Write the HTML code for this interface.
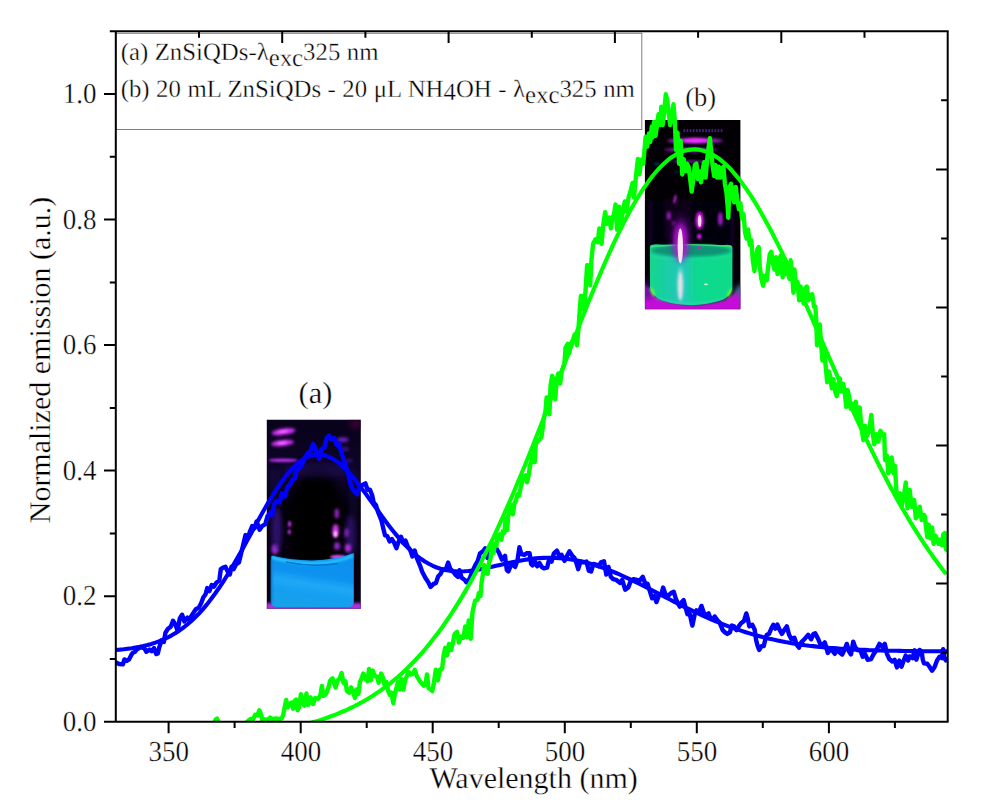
<!DOCTYPE html>
<html><head><meta charset="utf-8"><title>chart</title>
<style>html,body{margin:0;padding:0;background:#fff;}svg{display:block}text{font-family:"Liberation Serif",serif;fill:#000;stroke:#fff;stroke-width:0.35px;text-rendering:geometricPrecision}</style></head><body>
<svg width="990" height="810" viewBox="0 0 990 810">
<rect width="990" height="810" fill="#fff"/>
<defs><clipPath id="cp"><rect x="115.8" y="31.3" width="831.9000000000001" height="690.4000000000001"/></clipPath></defs>
<defs>
<filter id="b1" x="-50%" y="-50%" width="200%" height="200%"><feGaussianBlur stdDeviation="1"/></filter>
<filter id="b15" x="-50%" y="-50%" width="200%" height="200%"><feGaussianBlur stdDeviation="1.6"/></filter>
<filter id="b2" x="-50%" y="-50%" width="200%" height="200%"><feGaussianBlur stdDeviation="2.4"/></filter>
<filter id="b4" x="-50%" y="-50%" width="200%" height="200%"><feGaussianBlur stdDeviation="4"/></filter>
<filter id="b05" x="-50%" y="-50%" width="200%" height="200%"><feGaussianBlur stdDeviation="0.6"/></filter>
<clipPath id="ca"><rect x="266.8" y="419.7" width="94" height="189"/></clipPath>
<clipPath id="cb"><rect x="644.9" y="120" width="95.5" height="189.3"/></clipPath>
<linearGradient id="la" x1="0.62" y1="0" x2="0.38" y2="1">
<stop offset="0" stop-color="#0a8eee"/><stop offset="0.4" stop-color="#0a92f0"/><stop offset="0.58" stop-color="#20a8f6"/><stop offset="0.78" stop-color="#129ef0"/><stop offset="1" stop-color="#16a2e8"/></linearGradient>
<linearGradient id="lb" x1="0" y1="0" x2="1" y2="0">
<stop offset="0" stop-color="#12d68c"/><stop offset="0.25" stop-color="#1cccac"/><stop offset="0.4" stop-color="#24c8bc"/><stop offset="0.55" stop-color="#0ed892"/><stop offset="1" stop-color="#0adc88"/></linearGradient>
<linearGradient id="abg" x1="0" y1="0" x2="0" y2="1">
<stop offset="0" stop-color="#08021a"/><stop offset="0.2" stop-color="#0c0424"/><stop offset="0.3" stop-color="#10062e"/><stop offset="0.45" stop-color="#05000c"/><stop offset="1" stop-color="#070112"/></linearGradient>
</defs>
<g clip-path="url(#ca)">
<rect x="266" y="419" width="96" height="191" fill="url(#abg)"/>
<ellipse cx="316" cy="520" rx="27" ry="52" fill="#020006" filter="url(#b4)"/>
<ellipse cx="318" cy="470" rx="36" ry="7" fill="#24105c" opacity="0.6" filter="url(#b4)"/>
<rect x="270" y="470" width="10" height="85" fill="#180840" opacity="0.55" filter="url(#b2)"/>
<rect x="349" y="470" width="9" height="85" fill="#180840" opacity="0.5" filter="url(#b2)"/>
<ellipse cx="283.5" cy="431.7" rx="12" ry="3.1" fill="#d832ff" filter="url(#b15)" transform="rotate(-8 283.5 431.7)"/>
<ellipse cx="282.5" cy="443" rx="11.5" ry="3.0" fill="#d832ff" filter="url(#b15)" transform="rotate(-6 282.5 443)"/>
<ellipse cx="283" cy="460.2" rx="14.5" ry="1.8" fill="#b42ee8" filter="url(#b1)"/>
<ellipse cx="283" cy="431.5" rx="5" ry="1.1" fill="#f478ff" filter="url(#b1)" transform="rotate(-8 283 431.5)"/>
<ellipse cx="282" cy="443" rx="5" ry="1.1" fill="#f478ff" filter="url(#b1)" transform="rotate(-6 282 443)"/>
<ellipse cx="342.7" cy="439.7" rx="6" ry="2.4" fill="#6a22c0" filter="url(#b15)"/>
<ellipse cx="345" cy="449" rx="4" ry="2" fill="#3c1480" filter="url(#b15)"/>
<ellipse cx="349" cy="460.5" rx="4" ry="2" fill="#2c1068" filter="url(#b15)"/>
<rect x="350" y="420" width="11" height="8" fill="#3a0030" filter="url(#b2)"/>
<ellipse cx="336.8" cy="513.5" rx="2" ry="5" fill="#a028d8" filter="url(#b15)"/>
<ellipse cx="335.6" cy="531" rx="3.2" ry="7" fill="#d838f0" filter="url(#b15)"/>
<ellipse cx="335.4" cy="534" rx="1.8" ry="3" fill="#ffc8ff" filter="url(#b1)"/>
<ellipse cx="346.9" cy="532.7" rx="2" ry="4.5" fill="#c030e8" filter="url(#b15)"/>
<ellipse cx="289.6" cy="524" rx="1.6" ry="3" fill="#c030e8" filter="url(#b1)"/>
<ellipse cx="289.3" cy="531.8" rx="1.6" ry="2.6" fill="#c030e8" filter="url(#b1)"/>
<ellipse cx="275" cy="549" rx="3.2" ry="5" fill="#b832e8" filter="url(#b15)"/>
<ellipse cx="277" cy="530" rx="5" ry="22" fill="#3c1488" opacity="0.7" filter="url(#b2)"/>
<ellipse cx="350" cy="535" rx="5" ry="20" fill="#3c1488" opacity="0.6" filter="url(#b2)"/>
<ellipse cx="337" cy="546" rx="3" ry="4" fill="#9026c8" filter="url(#b15)"/>
<ellipse cx="348" cy="548" rx="3" ry="4" fill="#b030e0" filter="url(#b15)"/>
<ellipse cx="338" cy="557" rx="8" ry="2" fill="#e050f0" filter="url(#b1)"/>
<rect x="266" y="603" width="96" height="7" fill="#b030e0" filter="url(#b15)"/>
<path d="M271.3 556.5 Q272 555 274 556.3 Q290 560 312 560.5 Q336 560 353.8 553 L353.8 602 Q353.8 607 348 607 L277 607 Q271.3 607 271.3 602 Z" fill="url(#la)" filter="url(#b05)"/>
<path d="M272 557.5 Q290 563 312 563.5 Q338 563 353 555.5" fill="none" stroke="#28c4ff" stroke-width="3" filter="url(#b1)"/>
<path d="M286 562 Q312 567.5 338 563.5" fill="none" stroke="#0478cc" stroke-width="1.6" filter="url(#b05)"/>
<rect x="271" y="560" width="2" height="43" fill="#0a84dc" filter="url(#b1)"/>
</g>
<g clip-path="url(#cb)">
<rect x="644" y="119" width="97" height="191" fill="#020004"/>
<g filter="url(#b05)" fill="#4e2098" opacity="0.9"><rect x="683.5" y="129.1" width="1.7" height="3"/><rect x="686.6" y="129.1" width="1.7" height="3"/><rect x="689.7" y="129.1" width="1.7" height="3"/><rect x="692.8" y="129.1" width="1.7" height="3"/><rect x="695.9" y="129.1" width="1.7" height="3"/><rect x="699.0" y="129.1" width="1.7" height="3"/><rect x="702.1" y="129.1" width="1.7" height="3"/><rect x="705.2" y="129.1" width="1.7" height="3"/><rect x="708.3" y="129.1" width="1.7" height="3"/><rect x="711.4" y="129.1" width="1.7" height="3"/><rect x="714.5" y="129.1" width="1.7" height="3"/><rect x="717.6" y="129.1" width="1.7" height="3"/><rect x="720.7" y="129.1" width="1.7" height="3"/></g>
<ellipse cx="695" cy="140.7" rx="28" ry="2.6" fill="#a020c8" filter="url(#b15)"/>
<ellipse cx="696" cy="140.5" rx="13" ry="2.2" fill="#f030ff" filter="url(#b1)"/>
<ellipse cx="691" cy="149.8" rx="27" ry="1.9" fill="#9a1cc0" filter="url(#b15)"/>
<ellipse cx="690" cy="149.8" rx="12" ry="1.4" fill="#d028e8" filter="url(#b1)"/>
<ellipse cx="692.5" cy="161.5" rx="21" ry="1.2" fill="#7418a8" filter="url(#b1)"/>
<ellipse cx="657" cy="164" rx="3" ry="1.3" fill="#004070" filter="url(#b1)"/>
<ellipse cx="677" cy="172" rx="3" ry="1.3" fill="#101858" filter="url(#b1)"/>
<rect x="652" y="202" width="79" height="50" fill="#06010e" filter="url(#b4)"/>
<rect x="664" y="199" width="27" height="40" fill="#1a0628" opacity="0.5" filter="url(#b15)"/>
<path d="M650.5 200 V300 M732.5 200 V300" stroke="#2a1050" stroke-width="1.4" filter="url(#b1)"/>
<path d="M644 284 Q650 292 660 299 Q690 310 725 300 Q735 294 741 285 L741 310 L644 310 Z" fill="#c410d8" filter="url(#b1)"/>
<path d="M644 276 Q648 288 656 296 L644 300 Z" fill="#6a10a0" filter="url(#b2)"/>
<path d="M741 282 L733 292 L741 296 Z" fill="#207080" filter="url(#b2)"/>
<path d="M650 246 Q652 243.5 660 244.5 Q691 247 724 245 Q731 244 732.4 247 L732.4 288 Q731 296 722 300 Q692 310 662 300.5 Q652 296 650 288 Z" fill="url(#lb)" filter="url(#b05)"/>
<ellipse cx="691" cy="250.5" rx="40" ry="6" fill="#089474" filter="url(#b15)"/>
<path d="M651 246.5 Q690 243 731.5 246.5" stroke="#3ce070" stroke-width="1.6" fill="none" filter="url(#b05)"/>
<path d="M651 257 Q691 262 732 256" stroke="#2cdc98" stroke-width="1.5" fill="none" opacity="0.8" filter="url(#b1)"/>
<ellipse cx="652.5" cy="292" rx="1.6" ry="5" fill="#70f040" filter="url(#b1)" transform="rotate(-25 652.5 292)"/>
<ellipse cx="729.5" cy="293" rx="1.6" ry="5" fill="#70f040" filter="url(#b1)" transform="rotate(25 729.5 293)"/>
<path d="M656 298 Q691 309 727 298" stroke="#30e8a8" stroke-width="1.5" fill="none" opacity="0.7" filter="url(#b1)"/>
<ellipse cx="706" cy="284.3" rx="2" ry="0.9" fill="#d8ffd0" filter="url(#b05)"/>
<ellipse cx="668.8" cy="215.7" rx="1.8" ry="4.2" fill="#b020d8" filter="url(#b15)"/>
<ellipse cx="673.5" cy="223" rx="1.5" ry="2.5" fill="#7818a0" filter="url(#b15)"/>
<ellipse cx="720.4" cy="219" rx="2.2" ry="7" fill="#b020d8" filter="url(#b15)"/>
<ellipse cx="699.6" cy="220.5" rx="4" ry="9" fill="#e818f8" filter="url(#b15)"/>
<ellipse cx="699.6" cy="221" rx="1.8" ry="6" fill="#ffd8f4" filter="url(#b05)"/>
<ellipse cx="699.3" cy="236.5" rx="2.2" ry="2.8" fill="#d020e8" filter="url(#b1)"/>
<ellipse cx="699.3" cy="247.5" rx="1.6" ry="1.6" fill="#c020d0" filter="url(#b05)"/>
<ellipse cx="680.5" cy="242" rx="6.2" ry="18" fill="#ee18fc" filter="url(#b2)"/>
<ellipse cx="681" cy="238" rx="8" ry="22" fill="#8010b0" opacity="0.6" filter="url(#b4)"/>
<ellipse cx="680.3" cy="246" rx="2.7" ry="17.5" fill="#ffe4f4" filter="url(#b05)"/>
<ellipse cx="680.5" cy="284" rx="3.5" ry="17" fill="#80d8d8" opacity="0.8" filter="url(#b15)"/>
<ellipse cx="680.3" cy="286" rx="2.1" ry="14" fill="#ffe4ec" opacity="0.85" filter="url(#b1)"/>
<ellipse cx="675" cy="199" rx="1.1" ry="4.5" fill="#d028e8" filter="url(#b1)" transform="rotate(12 675 199)"/>
</g>
<g clip-path="url(#cp)" fill="none" stroke-linejoin="round" stroke-linecap="round">
<path d="M116.1 662.5 119.1 664.0 122.9 664.4 124.4 659.4 126.7 661.0 129.0 659.4 131.3 654.9 132.8 652.9 135.0 651.8 136.6 649.6 140.4 647.3 144.2 648.1 146.4 651.8 149.5 649.6 151.7 651.1 154.0 648.1 156.3 654.1 157.8 653.4 159.3 647.3 161.6 640.5 163.9 642.0 165.4 632.9 167.7 629.1 170.7 626.8 173.0 620.7 175.3 624.5 177.6 630.6 179.8 618.4 182.1 614.7 184.4 621.5 187.4 617.7 188.9 620.0 192.7 613.9 195.8 609.3 198.8 607.8 201.1 603.3 203.4 597.2 205.6 594.2 207.2 588.1 209.4 591.1 211.7 585.0 214.0 586.6 216.3 582.8 219.3 580.5 220.8 569.1 223.1 567.6 225.4 566.8 227.7 571.4 229.9 574.4 231.5 566.8 233.7 569.1 236.0 564.6 239.0 562.3 245.5 535.1 247.8 538.1 250.0 531.3 252.3 526.0 254.6 528.2 256.6 521.4 259.6 529.8 262.2 526.0 265.2 524.4 267.5 516.1 270.5 512.3 272.1 515.3 274.3 503.9 276.6 500.9 279.7 502.4 281.9 493.3 285.0 496.4 287.2 487.2 290.3 484.2 292.6 479.7 294.8 478.1 296.4 471.3 299.4 468.3 302.4 463.7 304.7 457.6 307.7 453.1 310.0 452.3 313.1 444.0 316.1 450.0 319.1 458.4 321.4 449.3 324.4 447.8 326.7 437.9 329.0 435.6 331.3 439.4 334.3 437.9 336.6 444.7 338.9 444.0 340.4 449.3 342.7 456.9 345.7 466.0 348.0 472.8 351.0 485.7 353.3 490.3 357.1 494.1 359.4 487.2 362.4 485.0 365.4 483.4 367.6 489.7 369.9 489.7 372.1 495.0 373.7 502.6 375.9 504.9 378.2 512.5 381.3 520.1 383.5 529.2 385.0 535.3 387.3 536.0 389.6 541.4 391.9 539.1 394.2 542.9 396.4 548.2 398.7 541.4 401.0 536.8 403.3 542.9 405.5 540.6 407.8 546.7 410.1 549.7 412.4 556.5 414.7 550.5 416.9 558.1 420.0 565.6 422.2 571.7 425.3 577.8 428.3 582.3 430.6 586.9 433.6 583.9 435.9 583.1 438.2 576.3 440.5 574.0 442.7 569.4 445.8 569.4 448.1 562.6 450.3 568.7 452.6 571.0 455.6 574.8 457.9 577.0 459.4 570.2 461.7 577.8 464.8 580.1 466.3 582.3 469.3 579.3 472.3 571.7 475.4 564.9 477.7 561.1 479.9 553.5 483.0 551.2 485.2 548.2 487.5 558.1 489.8 552.7 492.1 544.4 494.4 547.4 496.6 548.9 498.9 552.7 501.9 559.6 505.0 555.8 506.8 570.0 508.3 571.5 510.6 566.2 512.9 564.7 515.2 566.9 517.5 560.1 519.4 547.2 521.3 554.0 524.3 554.8 526.6 553.3 529.6 553.3 531.1 563.9 532.6 565.4 534.9 561.6 537.2 566.2 539.5 563.1 541.7 566.9 544.0 568.4 547.1 567.7 549.3 558.6 551.6 561.6 553.9 553.3 556.9 550.7 559.2 555.5 561.5 554.8 564.5 560.9 566.8 556.3 569.5 551.3 572.1 555.5 574.4 557.8 576.7 563.9 578.2 569.2 580.5 561.6 583.5 562.4 586.5 561.6 588.8 570.7 591.1 571.5 593.4 563.9 596.4 564.7 598.7 566.2 601.0 562.4 604.0 561.3 606.3 574.5 608.5 566.9 610.8 576.8 613.1 579.1 616.1 579.8 619.9 582.9 622.2 579.8 625.2 589.7 628.3 587.4 630.6 581.4 633.6 579.1 636.6 579.8 639.7 580.6 642.7 576.8 645.0 582.9 645.3 583.1 647.6 583.8 649.9 591.4 652.1 598.3 654.4 596.0 656.4 602.1 659.0 595.2 661.3 594.5 663.1 587.6 665.8 595.2 668.8 595.2 671.1 593.0 673.7 591.7 675.7 598.3 678.0 603.6 679.8 606.6 681.7 602.1 683.7 600.2 685.5 607.4 687.4 614.2 689.3 611.9 691.6 622.6 692.4 625.6 694.7 614.2 696.5 610.4 699.2 611.9 701.5 605.9 703.8 612.7 706.0 615.0 708.6 613.4 710.6 618.8 712.9 619.5 714.7 616.5 717.4 620.3 719.7 622.6 722.7 630.1 725.0 632.4 727.3 633.9 729.9 632.4 731.8 625.6 734.1 626.4 736.4 630.1 738.7 626.4 741.0 623.3 744.0 621.0 746.3 613.4 747.8 618.8 749.3 626.4 752.3 624.8 754.6 629.4 756.1 640.0 757.7 646.1 759.2 649.9 761.5 646.1 763.7 646.1 765.2 640.0 766.8 634.7 769.0 633.9 771.3 628.6 773.3 624.8 775.4 628.6 777.4 624.5 779.4 629.4 781.9 633.9 784.2 630.1 786.8 626.4 789.1 634.8 791.4 639.3 794.4 637.8 796.7 644.7 799.0 647.7 801.3 642.4 804.3 639.3 808.1 634.8 811.1 639.3 813.4 634.0 815.2 633.3 818.0 638.6 820.2 643.9 822.5 645.4 824.8 642.4 826.3 647.7 827.8 653.0 830.1 650.0 832.4 650.7 834.7 653.8 836.9 650.0 839.5 652.2 842.2 654.5 844.5 650.0 846.8 643.9 849.1 651.5 851.0 654.5 853.2 641.6 855.1 646.9 857.4 650.0 860.5 650.7 862.7 656.8 865.0 653.8 867.7 659.8 871.1 659.1 873.4 654.5 876.4 650.0 879.4 643.9 882.5 646.9 884.8 643.9 887.0 653.8 889.3 659.1 892.3 661.4 894.6 659.8 896.9 667.4 899.2 660.6 901.5 666.7 903.7 660.6 905.7 655.6 908.1 660.5 909.7 656.4 912.6 658.1 914.6 650.3 916.3 659.7 917.9 654.8 919.5 649.9 921.5 651.1 922.8 659.7 924.0 663.4 927.3 663.8 929.7 667.0 932.1 670.7 934.6 667.0 937.0 660.5 939.5 656.8 941.9 658.1 943.1 649.1 944.4 658.1 946.0 660.5 947.6 658.9" stroke="#0000ff" stroke-width="4.4"/>
<path d="M115.8 649.9 119.8 649.6 123.7 649.2 127.7 648.7 131.6 648.2 135.6 647.5 139.6 646.8 143.5 646.0 147.5 645.0 151.5 643.9 155.4 642.6 159.4 641.1 163.3 639.5 167.3 637.7 171.3 635.6 175.2 633.3 179.2 630.7 183.1 627.8 187.1 624.7 191.1 621.3 195.0 617.5 199.0 613.5 203.0 609.1 206.9 604.4 210.9 599.3 214.8 594.0 218.8 588.3 222.8 582.3 226.7 576.1 230.7 569.6 234.6 562.8 238.6 555.9 242.6 548.9 246.5 541.7 250.5 534.4 254.5 527.2 258.4 520.0 262.4 512.8 266.3 505.9 270.3 499.2 274.3 492.7 278.2 486.6 282.2 480.9 286.1 475.6 290.1 470.8 294.1 466.6 298.0 463.0 302.0 459.9 306.0 457.5 309.9 455.8 313.9 454.8 317.8 454.4 321.8 454.7 325.8 455.6 329.7 457.2 333.7 459.4 337.6 462.1 341.6 465.4 345.6 469.2 349.5 473.4 353.5 477.9 357.5 482.8 361.4 487.9 365.4 493.3 369.3 498.7 373.3 504.3 377.3 509.8 381.2 515.3 385.2 520.7 389.1 525.9 393.1 531.0 397.1 535.9 401.0 540.5 405.0 544.8 409.0 548.8 412.9 552.5 416.9 555.8 420.8 558.8 424.8 561.5 428.8 563.8 432.7 565.8 436.7 567.5 440.6 568.8 444.6 569.9 448.6 570.6 452.5 571.2 456.5 571.4 460.5 571.5 464.4 571.3 468.4 571.0 472.3 570.6 476.3 570.0 480.3 569.3 484.2 568.5 488.2 567.6 492.1 566.7 496.1 565.8 500.1 564.9 504.0 564.0 508.0 563.1 511.9 562.2 515.9 561.4 519.9 560.7 523.8 560.0 527.8 559.4 531.8 558.8 535.7 558.4 539.7 558.1 543.6 557.9 547.6 557.8 551.6 557.8 555.5 557.9 559.5 558.1 563.4 558.4 567.4 558.9 571.4 559.5 575.3 560.1 579.3 560.9 583.3 561.8 587.2 562.8 591.2 564.0 595.1 565.2 599.1 566.5 603.1 567.9 607.0 569.3 611.0 570.9 614.9 572.5 618.9 574.2 622.9 576.0 626.8 577.8 630.8 579.7 634.8 581.6 638.7 583.5 642.7 585.5 646.6 587.5 650.6 589.5 654.6 591.6 658.5 593.6 662.5 595.7 666.4 597.7 670.4 599.8 674.4 601.8 678.3 603.8 682.3 605.8 686.3 607.8 690.2 609.7 694.2 611.6 698.1 613.5 702.1 615.3 706.1 617.1 710.0 618.9 714.0 620.5 717.9 622.2 721.9 623.8 725.9 625.3 729.8 626.8 733.8 628.2 737.8 629.6 741.7 630.9 745.7 632.2 749.6 633.4 753.6 634.6 757.6 635.7 761.5 636.7 765.5 637.7 769.4 638.7 773.4 639.6 777.4 640.4 781.3 641.2 785.3 642.0 789.3 642.7 793.2 643.4 797.2 644.0 801.1 644.6 805.1 645.2 809.1 645.7 813.0 646.1 817.0 646.6 820.9 647.0 824.9 647.4 828.9 647.8 832.8 648.1 836.8 648.4 840.8 648.7 844.7 648.9 848.7 649.2 852.6 649.4 856.6 649.6 860.6 649.8 864.5 649.9 868.5 650.1 872.4 650.2 876.4 650.4 880.4 650.5 884.3 650.6 888.3 650.7 892.3 650.8 896.2 650.8 900.2 650.9 904.1 651.0 908.1 651.0 912.1 651.1 916.0 651.1 920.0 651.2 923.9 651.2 927.9 651.2 931.9 651.3 935.8 651.3 939.8 651.3 943.8 651.3 947.7 651.4" stroke="#0000ff" stroke-width="4.1"/>
<path d="M214.1 723.1 215.6 719.6 217.1 718.5 219.0 723.1 246.0 723.1 248.3 720.8 250.5 719.0 252.8 720.1 255.1 714.8 257.4 715.5 259.3 710.2 261.2 714.8 262.4 720.8 265.0 719.3 267.2 720.1 270.3 717.5 272.6 719.3 275.6 718.5 278.6 719.0 281.7 718.5 283.2 714.8 284.7 707.2 286.2 699.9 287.7 707.2 289.3 704.1 291.5 702.6 293.1 708.7 294.6 701.1 296.1 699.6 297.6 710.2 299.1 707.2 300.9 694.3 302.5 701.1 304.4 705.6 306.4 693.5 308.2 704.9 310.5 697.3 313.1 704.1 315.1 698.1 318.1 698.8 320.4 695.0 321.9 685.9 323.4 695.8 325.7 694.3 328.0 688.9 330.2 680.6 332.5 678.3 334.0 682.9 335.6 687.4 337.4 680.6 339.8 678.3 341.6 673.0 343.5 682.9 345.4 681.4 346.9 691.2 349.2 692.7 351.1 687.3 353.3 692.6 354.9 697.9 356.4 689.5 358.4 694.1 359.9 681.9 361.7 678.1 363.2 673.6 365.5 678.9 367.5 681.2 369.0 669.0 370.8 680.4 372.8 670.6 374.6 675.9 376.9 676.6 378.7 682.7 381.1 673.6 383.0 677.4 384.5 685.0 386.3 681.9 388.3 691.1 389.8 694.8 391.3 692.6 393.3 703.2 394.8 694.1 396.6 687.3 398.1 681.9 399.7 689.5 401.5 678.9 403.4 689.5 405.0 680.4 406.9 675.9 408.8 672.1 411.0 674.4 413.0 673.6 414.8 669.8 416.7 675.9 419.4 680.4 421.7 683.5 423.9 685.7 425.8 681.9 427.0 674.4 428.5 688.0 430.8 689.5 432.3 691.1 433.8 683.5 435.8 669.8 437.9 680.4 439.9 669.8 442.2 668.3 443.7 654.6 445.2 647.8 447.0 655.4 449.0 644.0 451.0 650.1 452.8 643.2 454.6 634.1 457.0 631.8 458.9 642.5 461.1 636.4 463.4 637.9 465.2 626.5 467.2 637.2 468.7 620.5 470.7 638.7 472.5 612.1 475.1 600.7 477.4 600.0 478.9 593.0 480.5 596.1 481.5 583.8 482.8 574.5 484.3 565.2 485.9 573.0 487.7 573.7 489.0 562.2 490.5 559.1 492.0 545.2 493.6 552.9 494.8 543.6 496.4 546.0 497.4 535.9 499.4 534.4 501.3 539.8 502.8 531.3 504.4 532.8 505.6 519.0 507.2 529.8 508.2 515.9 509.8 506.6 511.3 505.1 512.9 514.3 514.4 503.5 516.0 500.4 517.5 494.3 519.0 495.8 520.6 488.1 523.1 477.7 525.5 475.3 527.0 482.3 528.5 476.1 530.1 465.3 531.6 460.7 533.2 453.0 534.7 462.2 535.8 443.7 537.8 441.4 539.8 439.1 541.4 437.5 542.9 426.7 544.0 417.5 545.5 411.3 546.6 397.4 548.1 397.4 549.4 414.4 550.6 385.1 552.2 375.8 553.7 382.0 555.2 399.0 556.8 378.9 558.3 373.5 560.2 383.5 561.7 371.2 564.4 363.8 565.5 347.6 567.8 343.8 569.3 353.0 570.9 343.8 573.2 339.1 574.7 334.5 577.0 345.3 578.6 326.8 579.8 309.8 580.9 295.9 582.4 295.9 584.0 309.8 585.5 291.3 587.1 265.1 588.6 265.8 590.2 285.1 591.4 260.4 593.1 243.8 595.5 239.2 597.8 242.3 599.3 228.4 601.6 243.8 603.2 225.3 605.2 212.2 607.0 223.8 609.4 217.6 610.9 228.4 612.4 217.6 614.0 214.5 615.5 204.5 617.1 229.9 619.1 206.8 620.9 223.8 622.5 213.0 624.8 201.4 626.3 211.4 628.6 197.5 630.5 191.4 632.5 182.9 634.0 197.5 636.0 175.9 637.9 159.0 639.4 174.4 641.3 159.7 643.3 163.6 645.6 136.6 647.2 146.6 649.0 133.5 650.2 142.0 651.8 126.5 652.4 137.5 653.9 122.0 655.5 135.9 657.0 125.1 658.5 114.3 660.1 125.1 661.3 106.6 662.7 125.1 664.3 111.2 665.8 94.3 667.3 100.4 668.6 111.2 670.1 125.1 672.0 114.3 673.5 104.3 674.8 120.5 676.0 149.8 677.5 132.8 679.1 163.7 680.6 140.6 682.2 174.5 683.7 159.1 685.2 171.4 686.8 163.7 688.6 166.8 690.2 179.1 691.7 191.5 693.3 179.1 694.8 165.2 696.4 163.7 697.9 179.1 699.4 171.4 701.0 182.2 702.5 171.4 704.1 162.2 705.6 177.6 707.2 159.1 708.7 146.7 709.9 138.2 711.0 149.8 712.6 165.2 714.1 176.0 715.6 165.2 717.2 177.6 718.7 166.8 720.3 177.6 721.8 168.3 723.4 166.8 724.9 183.8 726.5 193.0 727.7 206.9 728.3 217.7 729.5 186.9 731.1 183.8 732.6 196.1 734.2 202.3 735.7 186.9 737.3 199.2 738.8 208.5 738.9 209.3 740.5 203.1 742.0 218.6 743.5 214.0 745.1 232.5 746.6 238.6 748.2 229.4 749.7 244.8 751.3 240.2 752.8 260.2 754.4 271.0 755.9 257.2 757.4 249.4 758.7 247.1 759.8 266.4 761.3 278.8 763.1 285.7 764.7 275.7 766.7 280.3 768.2 266.4 769.8 254.1 771.3 251.8 772.9 263.3 774.4 269.5 776.0 257.2 777.5 274.1 779.0 261.8 780.6 255.6 782.6 277.2 784.1 263.3 786.0 274.1 787.5 264.9 789.4 278.8 790.6 260.2 792.2 275.7 793.4 292.7 794.5 269.5 796.0 288.0 797.6 281.9 799.1 300.4 800.6 286.5 802.2 297.3 803.7 303.5 805.3 288.0 806.8 286.5 808.4 300.4 809.9 295.7 812.2 294.2 813.8 305.0 813.9 306.6 815.4 306.6 816.4 323.6 817.0 345.2 818.2 331.3 819.8 324.4 821.0 343.6 822.5 360.6 824.1 349.8 825.6 365.2 827.2 382.2 828.7 371.4 830.2 376.0 831.8 388.4 833.3 379.1 835.2 391.5 836.7 396.1 838.3 383.8 839.8 378.4 841.4 391.5 843.2 383.8 844.8 393.0 846.3 406.9 847.5 389.9 849.1 396.1 850.6 408.5 852.9 403.8 854.5 406.9 855.8 401.7 857.5 418.3 859.7 407.5 861.3 426.7 863.3 440.0 865.0 425.8 867.0 435.8 869.2 430.8 871.3 415.0 873.0 435.0 874.2 444.2 876.3 434.2 878.3 441.7 880.5 430.8 882.5 435.0 884.2 434.2 885.0 460.0 887.0 455.8 888.3 473.3 890.3 470.0 891.7 457.5 893.7 473.3 895.0 465.8 896.3 490.0 898.0 500.0 900.0 493.3 902.0 505.0 903.7 496.7 905.8 482.5 907.5 508.3 909.7 490.0 911.7 506.7 914.2 500.0 915.8 518.3 918.0 515.0 919.7 506.7 921.7 520.0 924.2 515.0 925.0 517.3 925.9 526.2 927.3 537.0 928.7 524.8 930.4 538.4 932.1 527.5 933.6 543.8 935.2 535.7 936.8 538.4 938.6 543.8 940.3 539.8 942.0 545.2 943.3 534.3 944.7 533.0 946.0 549.3 947.7 550.6" stroke="#00ff00" stroke-width="4.4"/>
<path d="M287.5 728.5 291.4 727.6 295.4 726.7 299.3 725.8 303.3 724.8 307.3 723.8 311.2 722.7 315.2 721.6 319.2 720.4 323.1 719.1 327.1 717.7 331.0 716.3 335.0 714.8 339.0 713.2 342.9 711.5 346.9 709.8 350.8 707.9 354.8 706.0 358.8 703.9 362.7 701.7 366.7 699.5 370.7 697.1 374.6 694.5 378.6 691.9 382.5 689.1 386.5 686.2 390.5 683.1 394.4 679.8 398.4 676.5 402.3 672.9 406.3 669.2 410.3 665.3 414.2 661.3 418.2 657.0 422.2 652.6 426.1 648.0 430.1 643.1 434.0 638.1 438.0 632.9 442.0 627.5 445.9 621.8 449.9 616.0 453.8 609.9 457.8 603.6 461.8 597.1 465.7 590.4 469.7 583.5 473.7 576.3 477.6 568.9 481.6 561.3 485.5 553.5 489.5 545.5 493.5 537.3 497.4 528.8 501.4 520.2 505.3 511.4 509.3 502.4 513.3 493.2 517.2 483.8 521.2 474.3 525.2 464.7 529.1 454.9 533.1 445.0 537.0 435.0 541.0 424.9 545.0 414.7 548.9 404.4 552.9 394.1 556.8 383.8 560.8 373.4 564.8 363.1 568.7 352.7 572.7 342.5 576.7 332.2 580.6 322.1 584.6 312.1 588.5 302.1 592.5 292.4 596.5 282.8 600.4 273.4 604.4 264.1 608.3 255.2 612.3 246.4 616.3 237.9 620.2 229.8 624.2 221.9 628.2 214.3 632.1 207.1 636.1 200.3 640.0 193.8 644.0 187.7 648.0 182.1 651.9 176.8 655.9 172.0 659.8 167.6 663.8 163.7 667.8 160.2 671.7 157.2 675.7 154.7 679.7 152.7 683.6 151.1 687.6 150.1 691.5 149.5 695.5 149.4 699.5 149.8 703.4 150.7 707.4 152.1 711.3 153.9 715.3 156.2 719.3 158.9 723.2 162.1 727.2 165.8 731.2 169.8 735.1 174.3 739.1 179.1 743.0 184.4 747.0 190.0 751.0 195.9 754.9 202.2 758.9 208.8 762.8 215.7 766.8 222.9 770.8 230.3 774.7 238.0 778.7 245.9 782.7 254.0 786.6 262.3 790.6 270.7 794.5 279.3 798.5 288.0 802.5 296.8 806.4 305.7 810.4 314.7 814.3 323.7 818.3 332.7 822.3 341.8 826.2 350.9 830.2 359.9 834.2 368.9 838.1 377.9 842.1 386.8 846.0 395.6 850.0 404.4 854.0 413.1 857.9 421.6 861.9 430.1 865.8 438.4 869.8 446.6 873.8 454.7 877.7 462.6 881.7 470.4 885.7 478.0 889.6 485.5 893.6 492.8 897.5 499.9 901.5 506.9 905.5 513.7 909.4 520.4 913.4 526.9 917.3 533.2 921.3 539.3 925.3 545.3 929.2 551.1 933.2 556.7 937.2 562.2 941.1 567.6 945.1 572.7" stroke="#00ff00" stroke-width="4.1"/>
</g>
<rect x="115.8" y="33.3" width="526.0" height="96.2" fill="#fff" stroke="#7f7f7f" stroke-width="1"/>
<g stroke="#000" stroke-width="2" fill="none" stroke-linecap="butt">
<path d="M109.8 31.3H948.6"/>
<path d="M104.0 721.7H948.6"/>
<path d="M115.8 31.3V721.7"/>
<path d="M947.7 31.3V721.7"/>
<path d="M109.8 658.9H115.8M104.0 596.2H115.8M109.8 533.4H115.8M104.0 470.6H115.8M109.8 407.9H115.8M104.0 345.1H115.8M109.8 282.4H115.8M104.0 219.6H115.8M109.8 156.8H115.8M104.0 94.1H115.8M168.6 721.7V733.3M234.6 721.7V728.1M300.7 721.7V733.3M366.7 721.7V728.1M432.7 721.7V733.3M498.7 721.7V728.1M564.8 721.7V733.3M630.8 721.7V728.1M696.8 721.7V733.3M762.8 721.7V728.1M828.9 721.7V733.3M894.9 721.7V728.1M199.0 31.3V37.7M282.2 31.3V42.9M365.4 31.3V37.7M448.6 31.3V42.9M531.8 31.3V37.7M614.9 31.3V42.9M698.1 31.3V37.7M781.3 31.3V42.9M864.5 31.3V37.7M947.7 652.7H941.1M947.7 583.6H936.1M947.7 514.6H941.1M947.7 445.5H936.1M947.7 376.5H941.1M947.7 307.5H936.1M947.7 238.4H941.1M947.7 169.4H936.1M947.7 100.3H941.1"/>
</g>
<g font-size="29px">
<text transform="translate(96.4,730.8) scale(0.93,1)" text-anchor="end">0.0</text>
<text transform="translate(96.4,605.3) scale(0.93,1)" text-anchor="end">0.2</text>
<text transform="translate(96.4,479.7) scale(0.93,1)" text-anchor="end">0.4</text>
<text transform="translate(96.4,354.2) scale(0.93,1)" text-anchor="end">0.6</text>
<text transform="translate(96.4,228.7) scale(0.93,1)" text-anchor="end">0.8</text>
<text transform="translate(96.4,103.2) scale(0.93,1)" text-anchor="end">1.0</text>
<text transform="translate(168.8,761.3) scale(0.93,1)" text-anchor="middle">350</text>
<text transform="translate(300.9,761.3) scale(0.93,1)" text-anchor="middle">400</text>
<text transform="translate(432.9,761.3) scale(0.93,1)" text-anchor="middle">450</text>
<text transform="translate(565.0,761.3) scale(0.93,1)" text-anchor="middle">500</text>
<text transform="translate(697.0,761.3) scale(0.93,1)" text-anchor="middle">550</text>
<text transform="translate(829.1,761.3) scale(0.93,1)" text-anchor="middle">600</text>
</g>
<text x="533.6" y="788.2" font-size="30px" text-anchor="middle">Wavelength (nm)</text>
<text transform="translate(50.2,360) rotate(-90)" font-size="30px" text-anchor="middle">Normalized emission (a.u.)</text>
<g font-size="24.8px" word-spacing="0.3px">
<text x="120.7" y="59.5">(a) ZnSiQDs-λ<tspan dy="6">exc</tspan><tspan dy="-6">325 nm</tspan></text>
<text x="120.7" y="96.8">(b) 20 mL ZnSiQDs - 20 μL NH<tspan dy="3">4</tspan><tspan dy="-3">OH - λ</tspan><tspan dy="6">exc</tspan><tspan dy="-6">325 nm</tspan></text>
</g>
<text x="315.5" y="403.2" font-size="30.5px" text-anchor="middle">(a)</text>
<text x="700.6" y="105.6" font-size="26.5px" text-anchor="middle">(b)</text>
</svg></body></html>
